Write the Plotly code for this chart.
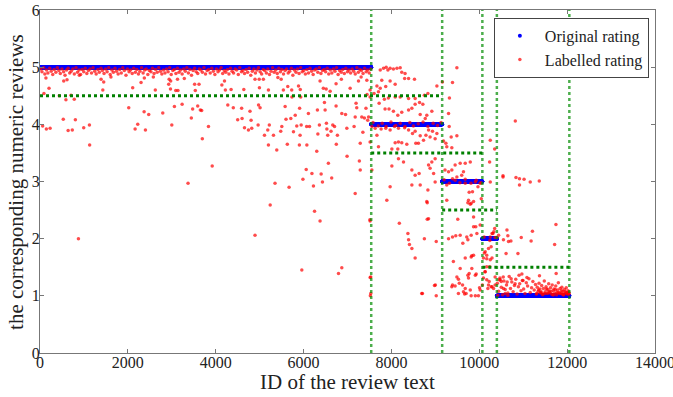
import plotly.graph_objects as go
import numpy as np

# ---------------- data ----------------
ratings = [5, 4, 3, 2, 1]
group_counts = [7540, 1615, 915, 330, 1650]      # reviews per original rating (IDs are sequential)

x_ticks = [0, 2000, 4000, 6000, 8000, 10000, 12000, 14000]
y_ticks = [0, 1, 2, 3, 4, 5, 6]

# labelled ratings: dense band just under 5
band5_x = [12, 45, 83, 110, 148, 180, 221, 255, 290, 322, 361, 395, 430, 462, 500, 538, 570, 606, 641, 677,
           710, 748, 781, 820, 853, 889, 925, 958, 996, 1030, 1066, 1101, 1139, 1172, 1208, 1245, 1279, 1316, 1350, 1388,
           1420, 1458, 1493, 1528, 1565, 1598, 1636, 1670, 1707, 1741, 1779, 1812, 1850, 1884, 1920, 1957, 1990, 2028, 2061, 2099,
           2133, 2170, 2204, 2241, 2275, 2312, 2347, 2383, 2418, 2455, 2489, 2526, 2560, 2597, 2631, 2668, 2703, 2739, 2774, 2810,
           2845, 2881, 2916, 2952, 2987, 3023, 3058, 3094, 3129, 3165, 3200, 3236, 3271, 3307, 3342, 3378, 3413, 3449, 3484, 3520,
           3555, 3591, 3626, 3662, 3697, 3733, 3768, 3804, 3839, 3875, 3910, 3946, 3981, 4017, 4052, 4088, 4123, 4159, 4194, 4230,
           4265, 4301, 4336, 4372, 4407, 4443, 4478, 4514, 4549, 4585, 4620, 4656, 4691, 4727, 4762, 4798, 4833, 4869, 4904, 4940,
           4975, 5011, 5046, 5082, 5117, 5153, 5188, 5224, 5259, 5295, 5330, 5366, 5401, 5437, 5472, 5508, 5543, 5579, 5614, 5650,
           5685, 5721, 5756, 5792, 5827, 5863, 5898, 5934, 5969, 6005, 6040, 6076, 6111, 6147, 6182, 6218, 6253, 6289, 6324, 6360,
           6395, 6431, 6466, 6502, 6537, 6573, 6608, 6644, 6679, 6715, 6750, 6786, 6821, 6857, 6892, 6928, 6963, 6999, 7034, 7070,
           7105, 7141, 7176, 7212, 7247, 7283, 7318, 7354, 7389, 7425, 7460, 7495, 7530]
band5_y = [4.97, 4.92, 4.99, 4.88, 4.95, 4.90, 4.98, 4.93, 4.87, 4.96, 4.91, 4.99, 4.94, 4.89, 4.97, 4.92, 4.86, 4.95, 4.98, 4.90,
           4.93, 4.97, 4.88, 4.99, 4.91, 4.95, 4.87, 4.96, 4.92, 4.98, 4.89, 4.94, 4.97, 4.90, 4.99, 4.93, 4.88, 4.96, 4.91, 4.98,
           4.94, 4.89, 4.97, 4.92, 4.99, 4.87, 4.95, 4.91, 4.98, 4.93, 4.88, 4.96, 4.90, 4.99, 4.94, 4.86, 4.97, 4.92, 4.95, 4.89,
           4.98, 4.91, 4.96, 4.88, 4.93, 4.99, 4.90, 4.95, 4.97, 4.87, 4.94, 4.92, 4.98, 4.89, 4.96, 4.91, 4.99, 4.93, 4.88, 4.95,
           4.90, 4.97, 4.92, 4.99, 4.87, 4.94, 4.96, 4.89, 4.98, 4.91, 4.95, 4.88, 4.97, 4.93, 4.99, 4.90, 4.96, 4.86, 4.94, 4.98,
           4.92, 4.89, 4.97, 4.95, 4.91, 4.99, 4.88, 4.94, 4.96, 4.90, 4.98, 4.93, 4.87, 4.97, 4.92, 4.95, 4.99, 4.89, 4.94, 4.91,
           4.96, 4.88, 4.98, 4.93, 4.90, 4.97, 4.95, 4.87, 4.99, 4.92, 4.94, 4.89, 4.96, 4.91, 4.98, 4.86, 4.93, 4.97, 4.90, 4.95,
           4.99, 4.92, 4.88, 4.96, 4.94, 4.90, 4.97, 4.87, 4.93, 4.99, 4.91, 4.95, 4.89, 4.98, 4.92, 4.96, 4.88, 4.94, 4.97, 4.90,
           4.93, 4.98, 4.86, 4.95, 4.91, 4.97, 4.89, 4.99, 4.92, 4.94, 4.88, 4.96, 4.90, 4.98, 4.93, 4.87, 4.95, 4.97, 4.91, 4.99,
           4.89, 4.94, 4.96, 4.92, 4.98, 4.88, 4.95, 4.90, 4.97, 4.93, 4.99, 4.87, 4.94, 4.91, 4.96, 4.89, 4.98, 4.92, 4.95, 4.90,
           4.97, 4.93, 4.88, 4.99, 4.91, 4.96, 4.94, 4.89, 4.98, 4.92, 4.95, 4.90, 4.97]

band4_x = [7580, 7700, 7790, 7880, 7990, 8100, 8200, 8310, 8420, 8500, 8610, 8720, 8830, 8950, 9050, 9130]
band4_y = [4.03, 3.97, 4.02, 3.96, 4.04, 3.98, 4.02, 3.96, 4.03, 3.97, 4.01, 4.04, 3.96, 4.02, 3.98, 4.03]

band3_x = [9200, 9320, 9450, 9560, 9680, 9810, 9930, 10040]
band3_y = [3.03, 2.97, 3.02, 2.98, 3.04, 2.97, 3.02, 2.98]

band2_x = [10110, 10240, 10360]
band2_y = [2.03, 1.97, 2.02]

band1_x = [10410, 10440, 10470, 10500, 10530, 10560, 10590, 10620, 10650, 10680, 10710, 10740, 10770, 10800, 10830, 10860, 10890, 10920, 10950, 10980,
           11010, 11040, 11070, 11100, 11130, 11160, 11190, 11220, 11250, 11280, 11300, 11320, 11340, 11360, 11380, 11400, 11420, 11440, 11460, 11480,
           11500, 11520, 11540, 11560, 11580, 11600, 11620, 11640, 11660, 11680, 11700, 11720, 11740, 11760, 11780, 11800, 11820, 11840, 11860, 11880,
           11900, 11920, 11940, 11960, 11980, 12000, 12020, 12040, 11310, 11350, 11410, 11450, 11530, 11570, 11630, 11670, 11730, 11770, 11830, 11870,
           11910, 11950, 11990, 12030, 11390, 11490, 11590, 11690, 11790, 11890, 11995, 12045, 10455, 10545, 10635, 10725, 10815, 10905, 10995, 11085]
band1_y = [1.22, 1.08, 1.31, 1.15, 1.02, 1.26, 1.11, 1.19, 1.05, 1.34, 1.13, 1.24, 1.07, 1.18, 1.29, 1.03, 1.16, 1.21, 1.09, 1.27,
           1.12, 1.04, 1.23, 1.17, 1.30, 1.06, 1.14, 1.25, 1.10, 1.20, 1.03, 1.15, 1.08, 1.22, 1.12, 1.05, 1.18, 1.02, 1.13, 1.26,
           1.07, 1.16, 1.04, 1.11, 1.21, 1.06, 1.14, 1.03, 1.19, 1.09, 1.12, 1.05, 1.17, 1.02, 1.10, 1.23, 1.06, 1.13, 1.04, 1.15,
           1.08, 1.02, 1.11, 1.05, 1.14, 1.03, 1.09, 1.06, 1.04, 1.10, 1.07, 1.03, 1.12, 1.05, 1.08, 1.02, 1.11, 1.06, 1.04, 1.09,
           1.02, 1.07, 1.05, 1.03, 1.06, 1.04, 1.08, 1.02, 1.05, 1.03, 1.06, 1.04, 1.28, 1.33, 1.24, 1.30, 1.21, 1.36, 1.27, 1.32]

# scattered labelled ratings (outliers)
scatter_x = [60, 145, 230, 90, 135, 205, 540, 615, 440, 590, 705, 780, 530, 805, 640, 735, 995, 1125, 1130, 895,
             1390, 1450, 1430, 1615, 2110, 2020, 2165, 2225, 2400, 2370, 2475, 2300, 2375, 2625, 2580, 2795, 3000, 2940, 2975, 2930,
             2970, 3090, 3140, 3130, 3235, 3060, 3285, 3370, 3445, 3475, 3590, 3650, 3680, 3695, 3535, 3520, 3620, 875,
             3835, 3920, 4200, 4140, 4220, 4350, 4275, 4400, 4590, 4500, 4600, 4655, 4745, 4820, 4780, 4805, 4640, 4895, 4990, 4995,
             4975, 5010, 4965, 5085, 5200, 5110, 5185, 5220, 5200, 5315, 5390, 5415, 5490, 5540, 5580, 5505, 5480, 5630, 5640, 5730,
             5735, 5600, 5710, 5810, 5770, 5845, 5905, 5910, 5920, 5945, 5885, 5925, 5935, 6075, 6070, 6135, 6110, 6060, 6190, 6300,
             6325, 6375, 6315, 6360, 6450, 6475, 6490, 6515, 6530, 6520, 6550, 6565, 6605, 6625, 6665, 6740, 6705, 6745, 6770, 6740,
             6860, 6870, 6955, 6985, 6990, 7060, 7150, 7175, 7195, 7210, 7250, 7290, 7310, 7325, 7350, 7385, 7420, 7440, 7445, 7270, 7290,
             5350, 5670, 5240, 4895, 5985, 6400, 6225, 6430, 6640, 7175, 6250, 6375, 5960, 6870, 6795, 7515, 7515, 7520,
             7745, 7820, 7880, 7920, 7970, 8045, 8125, 8200, 8310, 8235, 8390, 8525, 8300, 7970, 8085, 7780, 7745, 7870, 7670, 7605,
             7705, 7515, 7515, 9490, 9390, 9035, 9160, 9320, 8830, 8750, 8715, 8640, 8540, 8390, 8200, 8085, 7930, 7840, 7720, 7855,
             7945, 8045, 8145, 8235, 8390, 8465, 8540, 8655, 8805, 8770, 8920, 8845, 8935, 9035, 8785, 8655, 8540, 8480, 8390, 8300,
             8160, 8070, 7970, 7870, 7765, 7630, 7555, 7480, 7460, 7515, 7670, 7705, 8615, 8555, 8730, 8880, 8995, 9185, 9260, 9490,
             9300, 9315, 9360, 9375, 8085, 8235, 8350, 8160, 8010, 8145, 8010, 8160, 8275, 8465, 8540, 8630, 8465, 8655, 8845, 8880,
             8920, 8995, 8960, 8830, 8845, 8805, 8995, 7970, 7895, 8180, 7555, 7510, 8375, 8390, 8750, 8465, 8540, 9020, 9000, 9020,
             8705, 7530, 7530, 9240, 9220, 9300, 9375, 9450, 9565, 9680, 9795, 9640, 9600, 9490, 9390, 9260, 9680, 9770, 9845, 9910,
             9755, 9815, 9870, 9970, 10045, 10020, 10250, 10350, 10235, 10540, 9870, 10020, 9945, 9300, 9390, 9465, 9565, 9625, 9715, 9740,
             9815, 9870, 9680, 9815, 9410, 9565, 9770, 9755, 9910, 9490, 9390, 9545, 9620, 9680, 9795, 9525, 9665, 9815, 9910, 9980,
             10020, 10070, 10095, 10135, 10170, 10095, 10170, 10135, 10210, 10270, 10290, 10250, 10290, 10350, 10400, 10225, 10195, 10270, 10325, 10360,
             10420, 10500, 10550, 10590, 10650, 10250, 8410, 8815, 8815, 8690, 8980, 9260, 9510, 9740, 9795, 9870, 9920, 9830, 9830, 9740,
             9930, 9525, 9375, 9450, 9700, 9640, 10005, 10115, 10170, 10250, 10235, 10130, 10170, 10210, 10360, 10290, 10310, 10330,
             10820, 10540, 10835, 10915, 11020, 11160, 11365, 10915, 10630, 10650, 10665, 10720, 10550, 10440, 10955, 11210, 11180, 11745, 11715, 10610,
             10880, 10970, 11370, 11750, 10475]
scatter_y = [3.97, 3.92, 3.93, 4.54, 4.81, 4.63, 4.76, 4.78, 4.50, 4.43, 4.51, 4.44, 4.09, 4.08, 3.89, 3.90, 3.94, 3.99, 3.64, 4.86,
             4.79, 4.74, 4.60, 4.83, 4.64, 4.29, 3.92, 4.00, 3.90, 4.22, 4.17, 4.73, 4.81, 4.60, 4.83, 4.20, 3.99, 4.79, 4.76, 4.70,
             4.62, 4.59, 4.59, 4.79, 4.35, 4.31, 4.80, 2.97, 4.11, 4.27, 4.32, 4.25, 4.24, 3.75, 4.59, 4.70, 4.70, 2.00,
             3.96, 3.27, 4.76, 4.69, 4.60, 4.61, 4.34, 4.29, 4.28, 4.08, 4.10, 3.94, 3.90, 3.93, 4.23, 4.07, 4.61, 4.79, 4.79, 4.64,
             4.34, 4.29, 3.99, 4.79, 4.60, 3.81, 3.90, 3.99, 3.64, 3.81, 3.55, 4.82, 4.79, 4.60, 4.31, 3.96, 3.88, 3.65, 4.66, 4.60,
             4.48, 4.09, 4.10, 4.16, 3.87, 3.97, 3.64, 4.28, 3.81, 3.99, 4.67, 4.61, 4.48, 3.64, 3.96, 3.96, 4.19, 3.21, 3.14, 3.53,
             3.83, 4.76, 4.25, 3.99, 4.63, 4.38, 4.25, 4.62, 3.92, 4.02, 3.81, 3.32, 4.58, 3.88, 3.99, 4.32, 3.96, 3.65, 3.81, 4.71,
             4.79, 4.19, 4.17, 3.93, 3.44, 4.63, 3.96, 4.13, 4.37, 4.29, 4.76, 3.67, 4.83, 4.13, 3.86, 4.11, 4.28, 4.77, 4.52, 3.36, 3.20,
             2.97, 2.90, 2.59, 2.06, 3.04, 3.13, 2.92, 2.99, 3.06, 2.79, 2.48, 2.31, 1.45, 1.49, 1.39, 2.31, 1.32, 1.00,
             4.95, 4.98, 5.00, 4.95, 4.98, 4.97, 4.98, 4.99, 4.89, 4.91, 4.80, 4.79, 4.80, 4.76, 4.70, 4.77, 4.63, 4.66, 4.67, 4.54,
             4.57, 4.60, 4.48, 4.99, 4.73, 4.67, 4.74, 4.46, 4.54, 4.51, 4.35, 4.38, 4.45, 4.45, 4.48, 4.48, 4.46, 4.44, 4.37, 4.27,
             4.27, 4.23, 4.16, 4.21, 4.25, 4.28, 4.35, 4.17, 4.16, 4.10, 4.23, 3.90, 3.88, 3.84, 3.81, 3.80, 3.88, 3.84, 3.90, 3.94,
             3.93, 3.96, 3.90, 3.93, 3.92, 3.93, 3.96, 4.13, 4.07, 3.69, 3.81, 3.61, 3.67, 3.67, 3.72, 3.78, 3.75, 3.71, 3.61, 3.80,
             4.19, 3.96, 3.78, 3.59, 3.68, 3.68, 3.65, 3.69, 3.57, 3.57, 3.27, 3.40, 3.34, 3.20, 3.11, 3.14, 2.94, 2.94, 3.29, 3.23,
             3.34, 3.40, 3.14, 2.85, 2.35, 2.65, 2.99, 2.91, 2.67, 2.27, 3.20, 2.33, 2.09, 1.98, 2.00, 1.83, 1.66, 1.95, 1.19, 1.00,
             1.04, 1.33, 1.04, 3.67, 3.20, 3.17, 3.20, 3.29, 3.32, 3.32, 3.34, 3.17, 3.11, 3.08, 3.05, 2.94, 2.97, 2.81, 2.82, 2.99,
             2.67, 2.62, 2.65, 2.91, 2.70, 2.97, 3.72, 3.57, 3.34, 3.10, 2.21, 2.24, 2.09, 2.00, 2.03, 2.05, 2.06, 1.92, 2.03, 1.98,
             2.06, 1.71, 1.66, 1.68, 1.60, 1.48, 1.39, 1.31, 1.36, 1.33, 1.19, 1.22, 1.19, 1.13, 1.10, 1.04, 1.03, 1.00, 1.00, 1.00,
             1.10, 1.19, 1.31, 1.42, 1.51, 1.66, 1.71, 1.77, 1.83, 1.86, 1.66, 2.03, 2.09, 2.18, 2.02, 1.25, 1.13, 1.16, 1.13, 1.19,
             1.01, 1.25, 1.13, 1.04, 1.01, 2.99, 1.90, 2.63, 2.34, 1.04, 1.18, 2.67, 2.34, 2.63, 2.60, 2.38, 2.21, 1.70, 1.48, 1.36,
             1.38, 1.29, 1.16, 1.17, 1.04, 1.07, 1.14, 1.75, 1.65, 1.63, 1.51, 1.42, 1.28, 1.19, 1.33, 1.16, 2.09, 2.12,
             4.06, 3.08, 3.07, 3.05, 3.04, 2.99, 3.01, 2.94, 2.15, 2.05, 1.95, 1.96, 1.98, 2.06, 2.02, 2.13, 1.96, 2.25, 1.90, 1.74,
             1.74, 1.38, 1.35, 1.39, 1.28]

x_title = "ID of the review text"
y_title = "the corresponding numeric reviews"

# ---------------- derived ----------------
orig_rating = np.repeat(ratings, group_counts)
review_id = np.arange(len(orig_rating))
bounds = np.cumsum([0] + group_counts)          # 0, 7540, 9155, 10070, 10400, 12050

lab_x = band5_x + band4_x + band3_x + band2_x + band1_x + scatter_x
lab_y = band5_y + band4_y + band3_y + band2_y + band1_y + scatter_y

FONT = "Liberation Serif, Times New Roman, serif"
GREEN = "rgb(0,128,0)"
GREEN_V = "rgba(0,140,0,0.7)"

fig = go.Figure()
fig.add_trace(go.Scatter(x=review_id, y=orig_rating, mode="markers", name="Original rating",
                         marker=dict(color="rgb(0,0,255)", size=4, line=dict(width=0))))
fig.add_trace(go.Scatter(x=lab_x, y=lab_y, mode="markers", name="Labelled rating",
                         marker=dict(color="rgba(255,0,0,0.7)", size=3.5, line=dict(width=0))))

shapes = []
for b in bounds[1:]:
    shapes.append(dict(type="line", xref="x", yref="y", x0=b, x1=b, y0=0, y1=6,
                       line=dict(color=GREEN_V, width=2.5, dash="dot")))
for i in range(len(ratings) - 1):
    thr = ratings[i] - 0.5
    shapes.append(dict(type="line", xref="x", yref="y", x0=bounds[i], x1=bounds[i + 2], y0=thr, y1=thr,
                       line=dict(color=GREEN, width=3, dash="dot")))

axis_common = dict(showgrid=False, zeroline=False, showline=True, linecolor="#777", linewidth=1,
                   mirror="ticks", ticks="inside", ticklen=4, tickcolor="#777", automargin=False,
                   ticklabeloverflow="allow",
                   tickfont=dict(family=FONT, size=16, color="#222"))

fig.update_layout(
    width=673, height=397,
    margin=dict(l=40, r=18, t=10, b=44),
    paper_bgcolor="white", plot_bgcolor="white",
    shapes=shapes,
    font=dict(family=FONT, color="#222"),
    xaxis=dict(range=[0, 14000], tickvals=x_ticks, ticktext=[str(v) for v in x_ticks],
               ticklabelstandoff=-5, **axis_common),
    yaxis=dict(range=[0, 6], tickvals=y_ticks, ticktext=[str(v) for v in y_ticks],
               ticklabelstandoff=-4, **axis_common),
    annotations=[
        dict(text=x_title, xref="paper", yref="paper", x=0.5, y=-0.084, xanchor="center", yanchor="middle",
             showarrow=False, font=dict(family=FONT, size=21, color="#222")),
        dict(text=y_title, xref="paper", yref="paper", x=-0.040, y=0.5, xanchor="center", yanchor="middle",
             textangle=-90, showarrow=False, font=dict(family=FONT, size=21, color="#222")),
    ],
    legend=dict(x=0.738, y=0.977, xanchor="left", yanchor="top", itemwidth=40,
                bgcolor="white", bordercolor="#444", borderwidth=1,
                font=dict(family=FONT, size=16, color="#222"), tracegroupgap=0),
    showlegend=True,
)

# remove the browser's default 8px page margin so the figure sits at the window's top-left corner
fig.write_html("out.html", config={"displayModeBar": False},
               post_script="document.body.style.margin='0';")
